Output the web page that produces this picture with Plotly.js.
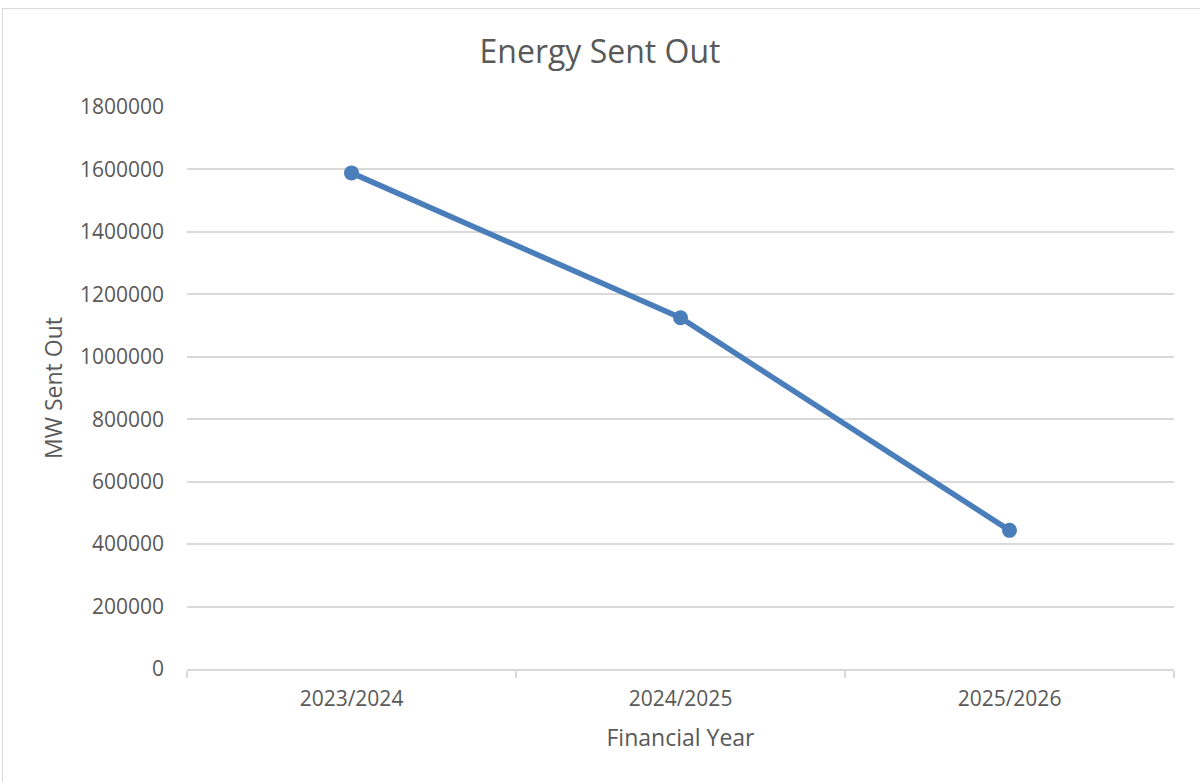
<!DOCTYPE html>
<html>
<head>
<meta charset="utf-8">
<script src="https://cdn.plot.ly/plotly-3.0.1.min.js"></script>
<style>
  html, body { margin: 0; padding: 0; background: #fff; overflow: hidden; }
  #chart { width: 1200px; height: 782px; position: absolute; left: 0; top: 0; }
  #frame { position: absolute; left: 2px; top: 8px; width: 1300px; height: 900px;
           border: 1px solid #d9d9d9; pointer-events: none; box-sizing: border-box; }
</style>
</head>
<body>
<div id="chart"></div>
<div id="frame"></div>
<script>
const years = ["2023/2024", "2024/2025", "2025/2026"];
const mwSentOut = [1589000, 1125000, 444000];
const chartTitle = "Energy Sent Out";
const xTitle = "Financial Year";
const yTitle = "MW Sent Out";

const textColor = "#595959";
const gridColor = "#d9d9d9";
const lineColor = "#4a7ebb";
const fontFamily = "'Open Sans', 'Noto Sans', sans-serif";

const trace = {
  type: "scatter",
  mode: "lines+markers",
  x: years,
  y: mwSentOut,
  line: { color: lineColor, width: 5.5 },
  marker: { color: lineColor, size: 15 },
  hoverinfo: "x+y"
};

const layout = {
  width: 1200,
  height: 782,
  paper_bgcolor: "rgba(0,0,0,0)",
  plot_bgcolor: "#ffffff",
  margin: { l: 187, r: 26, t: 107, b: 113 },
  showlegend: false,
  font: { family: fontFamily, color: textColor, size: 21 },
  title: {
    text: chartTitle,
    font: { family: fontFamily, size: 32, color: textColor },
    x: 0.5, xanchor: "center",
    y: 1 - 52 / 782, yanchor: "middle", yref: "container"
  },
  xaxis: {
    type: "category",
    range: [-0.5, 2.5],
    showgrid: false,
    zeroline: false,
    showline: true,
    linecolor: gridColor,
    linewidth: 1.5,
    ticks: "outside",
    tickson: "boundaries",
    ticklen: 7,
    tickcolor: gridColor,
    tickwidth: 1.5,
    ticklabelstandoff: 10,
    tickfont: { family: fontFamily, size: 21, color: textColor },
    title: { text: xTitle, font: { family: fontFamily, size: 23, color: textColor }, standoff: 19 }
  },
  yaxis: {
    range: [0, 1800000],
    dtick: 200000,
    tick0: 0,
    tickformat: "d",
    showgrid: true,
    gridcolor: gridColor,
    gridwidth: 1.5,
    zeroline: false,
    showline: false,
    ticks: "",
    ticklabelstandoff: 22,
    tickfont: { family: fontFamily, size: 21, color: textColor },
    title: { text: yTitle, font: { family: fontFamily, size: 23, color: textColor }, standoff: 10 }
  }
};

Plotly.newPlot("chart", [trace], layout, { displayModeBar: false, staticPlot: false });
</script>
</body>
</html>
